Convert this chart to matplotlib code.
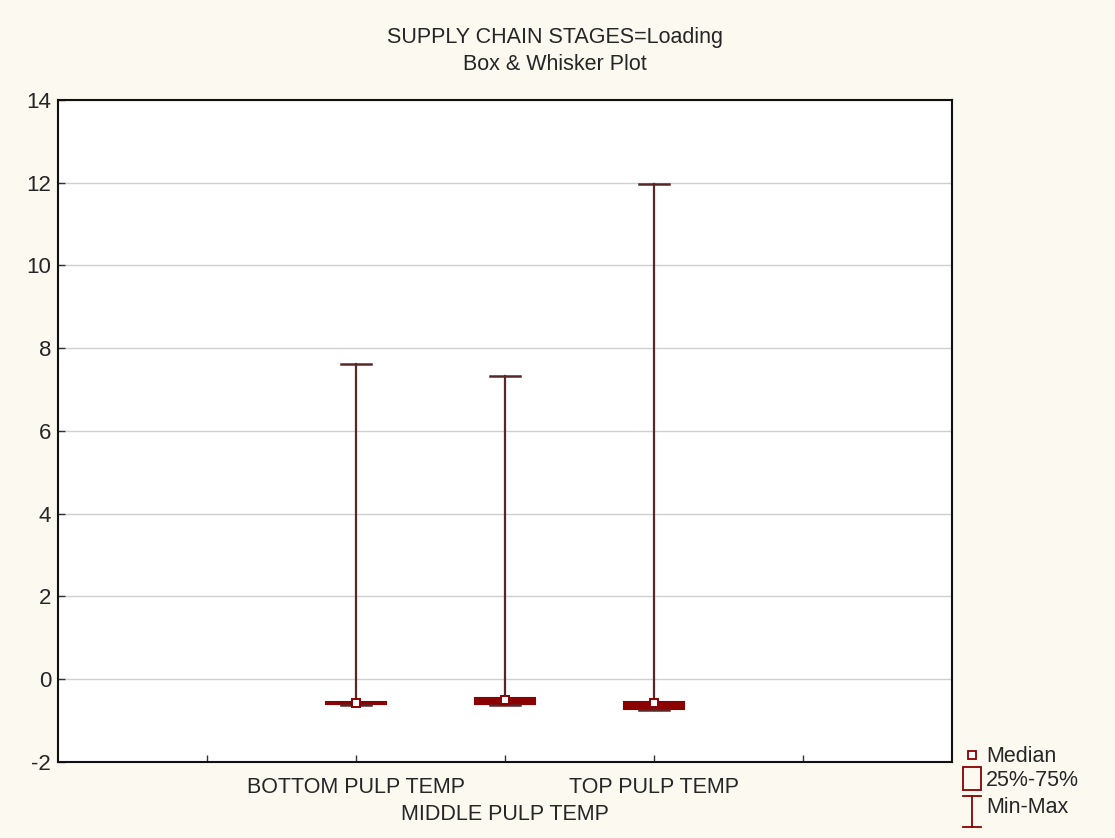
import matplotlib
matplotlib.use("Agg")
import matplotlib.pyplot as plt
from matplotlib.lines import Line2D
from matplotlib.patches import Rectangle

# ---- data ----
categories = ["BOTTOM PULP TEMP", "MIDDLE PULP TEMP", "TOP PULP TEMP"]
mins    = [-0.63, -0.63, -0.74]
q1s     = [-0.61, -0.60, -0.72]
medians = [-0.57, -0.49, -0.58]
q3s     = [-0.56, -0.46, -0.54]
maxs    = [7.62, 7.33, 11.97]
y_ticks = [-2, 0, 2, 4, 6, 8, 10, 12, 14]

plt.rcParams['font.family'] = ['Liberation Sans', 'DejaVu Sans']
BG = '#fcf9f1'
BOX = '#8b0000'
WHISK = '#5a2626'
TXT = '#262626'

fig = plt.figure(figsize=(11.15, 8.38), dpi=100, facecolor=BG)
ax = fig.add_axes([0.052, 0.0907, 0.802, 0.7900])
ax.set_facecolor('white')

positions = [2, 3, 4]
stats = []
for c, lo, a, m, b, hi in zip(categories, mins, q1s, medians, q3s, maxs):
    stats.append(dict(label=c, whislo=lo, q1=a, med=m, q3=b, whishi=hi, fliers=[]))

ax.bxp(stats, positions=positions, widths=0.4, capwidths=0.2, patch_artist=True,
       showfliers=False,
       boxprops=dict(facecolor=BOX, edgecolor=BOX, linewidth=1.5),
       whiskerprops=dict(color=WHISK, linewidth=1.6),
       capprops=dict(color=WHISK, linewidth=1.8),
       medianprops=dict(linewidth=0))
ax.plot(positions, medians, linestyle='none', marker='s', markersize=5.5,
        markerfacecolor='white', markeredgecolor=BOX, markeredgewidth=1.4, zorder=5)

ax.set_xlim(0, 6)
ax.set_ylim(-2, 14)
ax.set_yticks(y_ticks)
ax.set_yticklabels([str(v) for v in y_ticks], fontsize=16, color=TXT)
ax.set_xticks([1, 2, 3, 4, 5])
ax.set_xticklabels(['', categories[0], '', categories[2], ''], fontsize=15.5, color=TXT)
# staggered second row for the middle category
ax.text(positions[1], -(815 - 762) / 662, categories[1], transform=ax.get_xaxis_transform(),
        ha='center', va='center', fontsize=15.5, color=TXT)
ax.tick_params(axis='both', direction='in', length=5, width=1, color='#333333')
ax.tick_params(axis='y', pad=5)
ax.tick_params(axis='x', pad=11)
ax.grid(axis='y', color='#cfcfcf', linewidth=1)
ax.set_axisbelow(True)
for s in ax.spines.values():
    s.set_color('#111111')
    s.set_linewidth(1.5)

fig.text(0.4978, 1 - 38 / 838, 'SUPPLY CHAIN STAGES=Loading', ha='center', va='center',
         fontsize=15.5, color=TXT)
fig.text(0.4978, 1 - 64 / 838, 'Box & Whisker Plot', ha='center', va='center',
         fontsize=15.5, color=TXT)

# ---- legend (outside, bottom right) ----
W, H = 1115, 838
def fx(px): return px / W
def fy(py): return 1 - py / H

fig.add_artist(Rectangle((fx(968), fy(759)), fx(8), 8 / H, transform=fig.transFigure,
                         facecolor='white', edgecolor=BOX, linewidth=1.3))
fig.add_artist(Rectangle((fx(963), fy(790)), fx(18), 23 / H, transform=fig.transFigure,
                         facecolor='none', edgecolor=BOX, linewidth=1.3))
fig.add_artist(Line2D([fx(963), fx(981)], [fy(796), fy(796)], transform=fig.transFigure,
                      color=BOX, linewidth=1.3))
fig.add_artist(Line2D([fx(963), fx(981)], [fy(827), fy(827)], transform=fig.transFigure,
                      color=BOX, linewidth=1.3))
fig.add_artist(Line2D([fx(972), fx(972)], [fy(796), fy(827)], transform=fig.transFigure,
                      color=BOX, linewidth=1.3))
fig.text(fx(986), fy(756), 'Median', ha='left', va='center', fontsize=15.5, color=TXT)
fig.text(fx(986), fy(780), '25%-75%', ha='left', va='center', fontsize=15.5, color=TXT)
fig.text(fx(986), fy(807), 'Min-Max', ha='left', va='center', fontsize=15.5, color=TXT)

fig.savefig('out.png', dpi=100, facecolor=BG)
